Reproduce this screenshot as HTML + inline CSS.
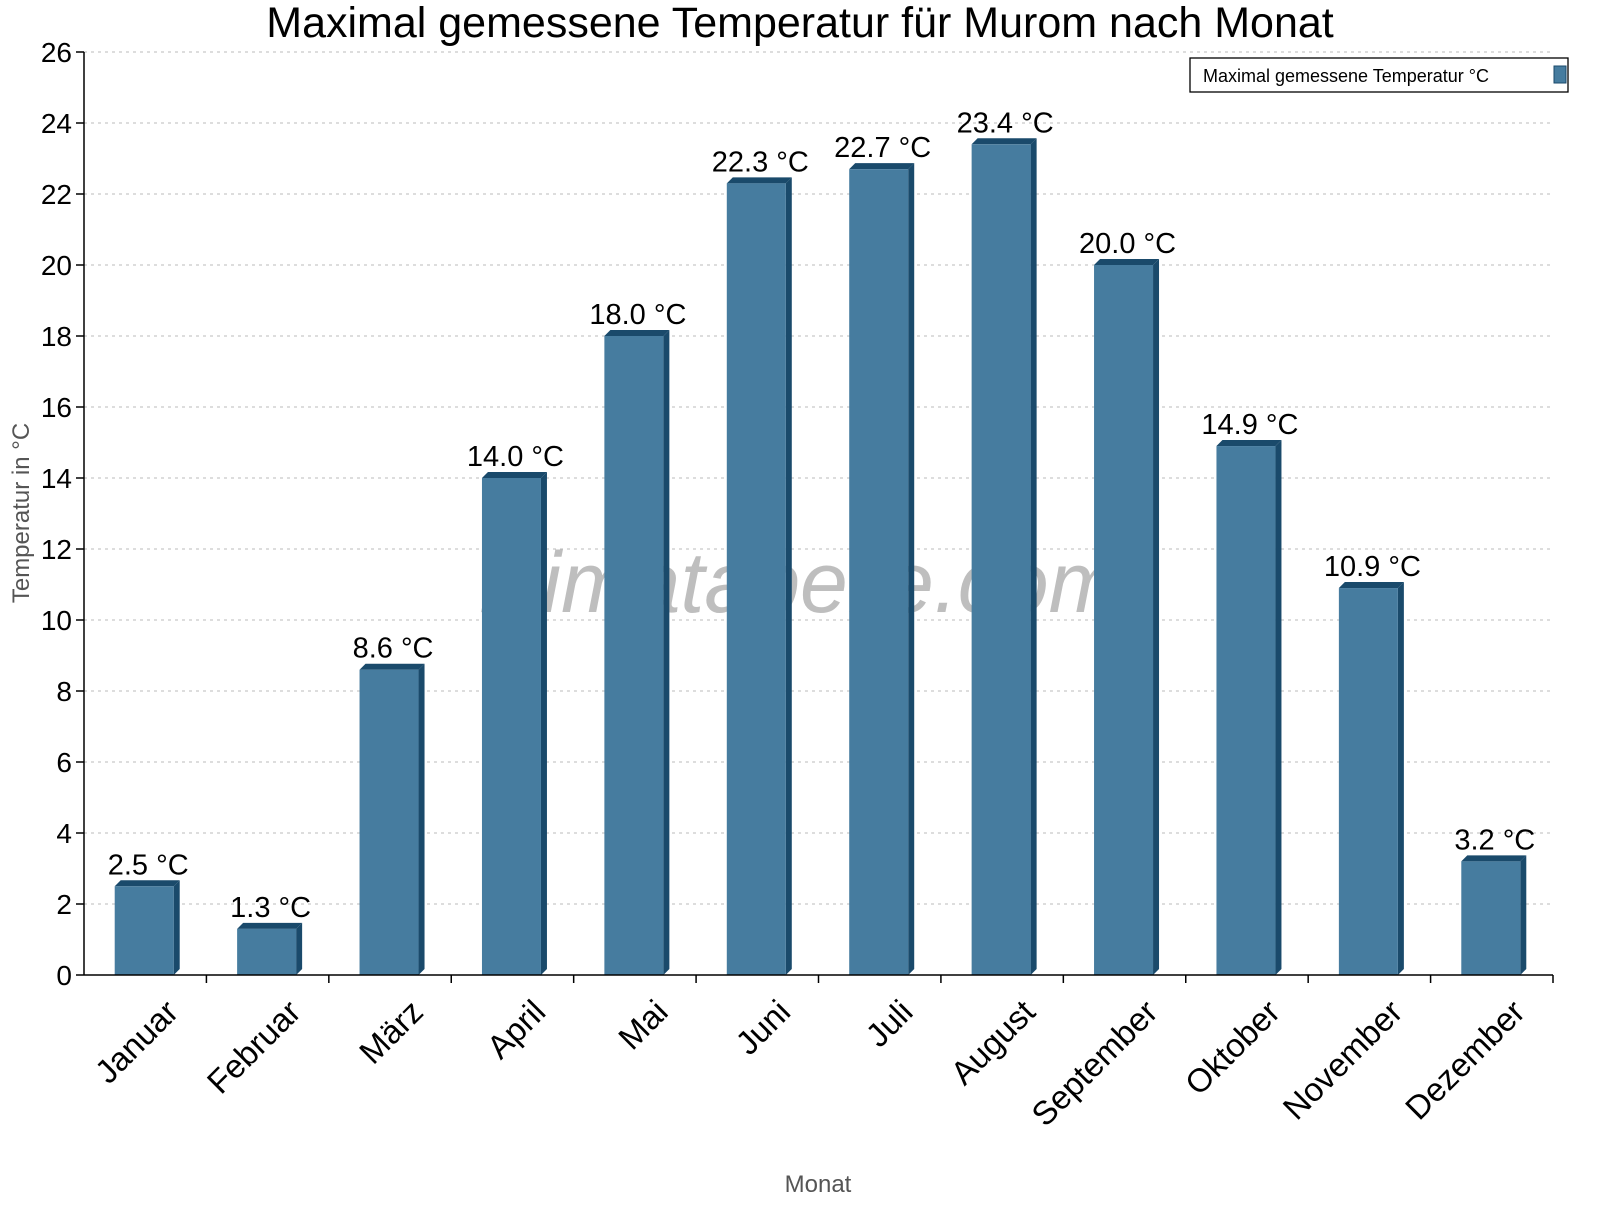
<!DOCTYPE html>
<html><head><meta charset="utf-8"><style>
body{margin:0;background:#fff}
text{font-family:"Liberation Sans",Arial,sans-serif}
</style></head><body>
<svg id="c" width="1600" height="1200" xmlns="http://www.w3.org/2000/svg">
<text x="800" y="37" font-size="43" text-anchor="middle">Maximal gemessene Temperatur für Murom nach Monat</text>
<text x="800" y="612" font-size="86" font-style="italic" fill="#888" fill-opacity="0.55" text-anchor="middle">klimatabelle.com</text>
<g id="grid"></g><g id="bars"></g><g id="axes"></g>
<text transform="translate(29,513) rotate(-90)" font-size="24" fill="#555" text-anchor="middle">Temperatur in °C</text>
<text x="818" y="1192" font-size="24" fill="#555" text-anchor="middle">Monat</text>
<g>
<rect x="1190" y="58" width="378" height="34" fill="#fff" stroke="#000" stroke-width="1.3"/>
<text x="1203" y="82" font-size="18">Maximal gemessene Temperatur °C</text>
<rect x="1554" y="66" width="12" height="17" fill="#467c9f" stroke="#1a4a6b"/>
</g>
</svg>
<script>
const categories=["Januar","Februar","März","April","Mai","Juni","Juli","August","September","Oktober","November","Dezember"];
const values=[2.5,1.3,8.6,14.0,18.0,22.3,22.7,23.4,20.0,14.9,10.9,3.2];
const yTicks=[0,2,4,6,8,10,12,14,16,18,20,22,24,26];
const NS="http://www.w3.org/2000/svg";
const X0=84,X1=1588,Y0=975,YT=52,YMAX=26;
const n=categories.length,cw=(1553-X0)/n;
const y=v=>Y0-(v/YMAX)*(Y0-YT);
const x=i=>X0+cw*i;
function mk(tag,attrs,parent,txt){const e=document.createElementNS(NS,tag);for(const k in attrs)e.setAttribute(k,attrs[k]);if(txt!==undefined)e.textContent=txt;parent.appendChild(e);return e;}
const grid=document.getElementById('grid'),bars=document.getElementById('bars'),axes=document.getElementById('axes');
yTicks.forEach(t=>{
  if(t>0){const g=mk('line',{x1:X0,x2:1553,y1:y(t),y2:y(t),stroke:'#bbb','stroke-dasharray':'3,4'},grid);
  
  }
  const tk=mk('line',{x1:X0-8,x2:X0,y1:y(t),y2:y(t),stroke:'#000','stroke-width':1.5},axes);
  
  
  const lb=mk('text',{x:X0-12,y:y(t)+10,'font-size':28,'text-anchor':'end'},axes,String(t));
  
  
});
const d=6,bw=59;
values.forEach((v,i)=>{
  const cx=x(i)+cw/2,l=cx-bw/2-1,top=y(v);
  const g=mk('g',{},bars);
  
  
  mk('polygon',{points:`${l},${top} ${l+d},${top-d} ${l+bw+d},${top-d} ${l+bw},${top}`,fill:'#1a4a6b'},g);
  mk('polygon',{points:`${l+bw},${top} ${l+bw+d},${top-d} ${l+bw+d},${Y0-d} ${l+bw},${Y0}`,fill:'#1a4a6b'},g);
  mk('rect',{x:l,y:top,width:bw,height:Y0-top,fill:'#467c9f'},g);
  const vl=mk('text',{x:cx+3,y:top-12,'font-size':29,'text-anchor':'middle'},bars,v.toFixed(1)+' °C');
  
  
  const tk=mk('line',{x1:x(i+1),x2:x(i+1),y1:Y0,y2:Y0+8,stroke:'#000','stroke-width':1.5},axes);
  
  
  const xl=mk('text',{transform:`translate(${cx+18},${Y0+22}) rotate(-45)`,'font-size':33,'text-anchor':'end','dominant-baseline':'hanging'},axes,categories[i]);
  
  
});
const ax=mk('line',{x1:X0,x2:X0,y1:YT,y2:Y0,stroke:'#000','stroke-width':1.5},axes);


const bx=mk('line',{x1:X0,x2:1553,y1:Y0,y2:Y0,stroke:'#000','stroke-width':1.5},axes);


</script>
</body></html>
